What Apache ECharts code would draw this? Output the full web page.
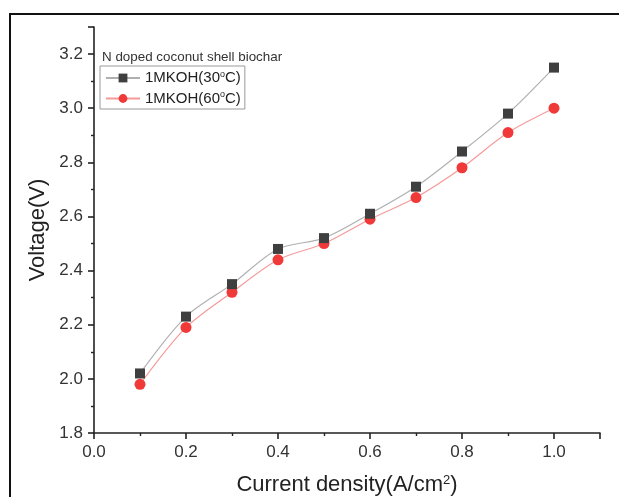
<!DOCTYPE html>
<html>
<head>
<meta charset="utf-8">
<script src="https://cdn.jsdelivr.net/npm/echarts@6/dist/echarts.min.js"></script>
<style>html,body{margin:0;padding:0;background:#fff;}#c{width:619px;height:497px;}</style>
</head>
<body>
<div id="c"></div>
<script>
var currentDensity = [0.1, 0.2, 0.3, 0.4, 0.5, 0.6, 0.7, 0.8, 0.9, 1.0];
var voltage30 = [2.02, 2.23, 2.35, 2.48, 2.52, 2.61, 2.71, 2.84, 2.98, 3.15];
var voltage60 = [1.98, 2.19, 2.32, 2.44, 2.50, 2.59, 2.67, 2.78, 2.91, 3.00];
var seriesNames = ['1MKOH(30°C)', '1MKOH(60°C)'];
var legendTitle = 'N doped coconut shell biochar';

function pairs(xs, ys) { return xs.map(function (x, i) { return [x, ys[i]]; }); }

var chart = echarts.init(document.getElementById('c'));
var font = 'Liberation Sans, Arial, sans-serif';
chart.setOption({
  animation: false,
  backgroundColor: '#fff',
  grid: { left: 94, top: 27, right: 19, bottom: 64, outerBoundsMode: 'none', containLabel: false },
  xAxis: {
    type: 'value', min: 0, max: 1.1, interval: 0.2,
    name: '{a|Current density(A/cm}{s|2}{a|)}',
    nameLocation: 'middle', nameGap: 41,
    nameTextStyle: { rich: { a: { fontSize: 22, color: '#222', fontFamily: font }, s: { fontSize: 13, color: '#222', fontFamily: font, verticalAlign: 'top', padding: [0, 0, 9, 0] } } },
    axisLine: { show: true, lineStyle: { color: '#222', width: 1.6 } },
    axisTick: { show: true, inside: false, length: 6, lineStyle: { color: '#222', width: 1.6 } },
    minorTick: { show: true, splitNumber: 2, length: 3, lineStyle: { color: '#222', width: 1.4 } },
    splitLine: { show: false },
    axisLabel: { fontSize: 17, color: '#333', fontFamily: font, margin: 11, showMaxLabel: false, formatter: function (v) { return v.toFixed(1); } }
  },
  yAxis: {
    type: 'value', min: 1.8, max: 3.3, interval: 0.2,
    name: 'Voltage(V)', nameLocation: 'middle', nameGap: 40, nameRotate: 90,
    nameTextStyle: { fontSize: 22, color: '#222', fontFamily: font },
    axisLine: { show: true, lineStyle: { color: '#222', width: 1.6 } },
    axisTick: { show: true, inside: false, length: 6, lineStyle: { color: '#222', width: 1.6 } },
    minorTick: { show: true, splitNumber: 2, length: 3, lineStyle: { color: '#222', width: 1.4 } },
    splitLine: { show: false },
    axisLabel: { fontSize: 17, color: '#333', fontFamily: font, margin: 11, showMaxLabel: false, formatter: function (v) { return v.toFixed(1); } }
  },
  legend: {
    orient: 'vertical', left: 100, top: 66,
    itemWidth: 34, itemHeight: 11, itemGap: 5,
    padding: [4, 4, 3, 5],
    borderColor: '#999', borderWidth: 1,
    data: seriesNames,
    formatter: function (n) {
      var m = n.match(/^(.*)°(.*)$/);
      return '{a|' + m[1] + '}{s|o}{a|' + m[2] + '}';
    },
    textStyle: {
      fontSize: 15, color: '#222', fontFamily: font,
      rich: {
        a: { fontSize: 15, color: '#222', fontFamily: font },
        s: { fontSize: 9, color: '#222', fontFamily: font, verticalAlign: 'top', padding: [0, 0, 7, 0] }
      }
    }
  },
  graphic: [
    { type: 'text', left: 102, top: 51, style: { text: legendTitle, font: '13.4px ' + font, fill: '#333' } },
    { type: 'rect', shape: { x: 10, y: 14, width: 700, height: 600 }, style: { fill: 'none', stroke: '#111', lineWidth: 2 }, silent: true }
  ],
  series: [
    {
      name: seriesNames[0], type: 'line', smooth: 0.3,
      data: pairs(currentDensity, voltage30),
      symbol: 'rect', symbolSize: 10,
      itemStyle: { color: '#3f3f3f' },
      lineStyle: { color: '#b0b0b0', width: 1.2 },
      z: 3
    },
    {
      name: seriesNames[1], type: 'line', smooth: 0.3,
      data: pairs(currentDensity, voltage60),
      symbol: 'circle', symbolSize: 11,
      itemStyle: { color: '#f03a3a' },
      lineStyle: { color: '#f59a9a', width: 1.2 },
      z: 2
    }
  ]
});
</script>
</body>
</html>
